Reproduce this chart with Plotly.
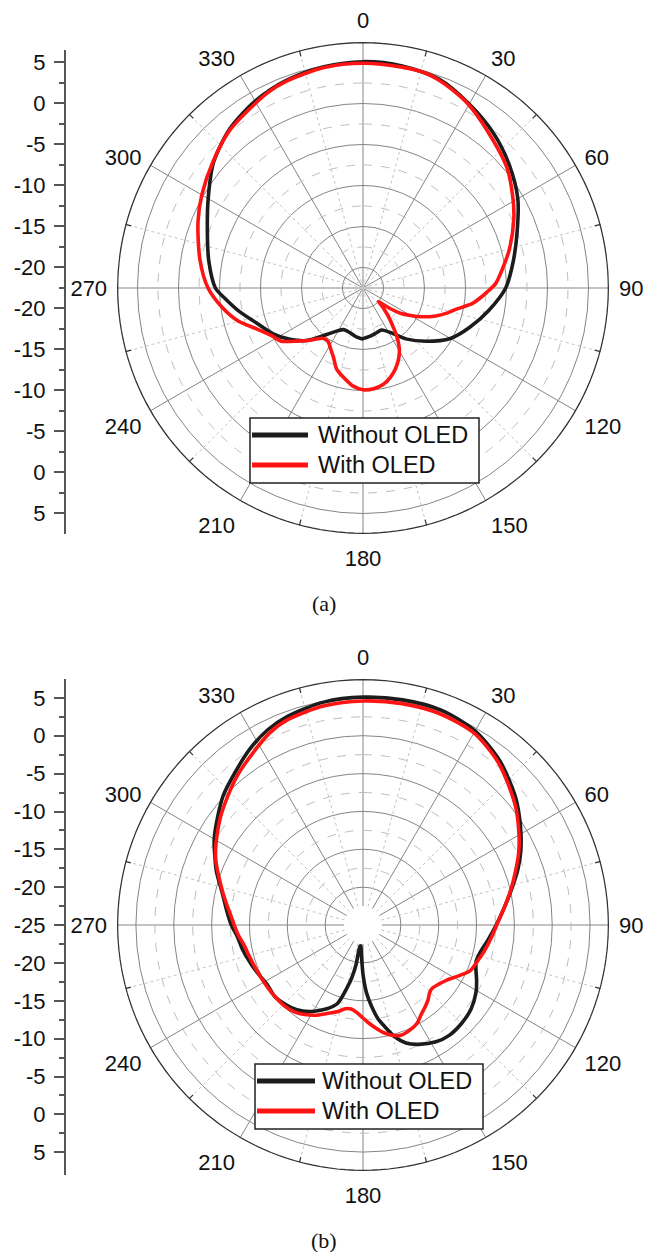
import plotly.graph_objects as go

# ---------------- data ----------------
# (a) Without OLED
a_black_theta = [0, 10, 20, 30, 40, 50, 60, 70, 80, 90, 100, 110, 120, 130, 140, 147, 156, 163, 170,
                 176, 181, 187, 194, 200, 205, 211, 218, 227, 235, 243, 252, 259, 265, 270, 280, 290,
                 300, 310, 320, 330, 340, 350, 360]
a_black_r = [5.1, 5.0, 4.6, 3.4, 2.2, 0.8, -0.7, -2.5, -3.9, -5.1, -6.9, -8.6, -10.2, -12.4, -14.4,
             -15.9, -16.9, -16.8, -16.6, -16.45, -16.3, -16.45, -16.75, -16.9, -16.9, -16.4, -15.3,
             -13.1, -11.6, -10.2, -8.8, -7.2, -5.8, -4.5, -3.4, -2.3, -0.7, 1.3, 2.8, 3.8, 4.5, 4.9, 5.1]

# (a) With OLED
a_red_theta = [0, 10, 16, 20, 27, 30, 38, 50, 58, 65, 75, 82, 88, 92, 95, 98, 103, 107, 111, 116, 120,
               124, 127, 130, 131.5, 133, 136, 139, 142, 145, 149, 153, 158, 163, 168, 174, 180, 186,
               192, 198, 203, 208, 213, 218, 225, 231, 237, 242, 249, 255, 262, 270, 280, 292, 300,
               310, 320, 334, 340, 350, 360]
a_red_r = [4.9, 4.85, 4.8, 4.5, 3.7, 3.3, 2.0, 0.4, -1.0, -2.2, -4.0, -5.3, -6.3, -7.4, -8.2, -9.0,
           -10.9, -11.9, -13.0, -14.5, -15.8, -17.0, -18.3, -19.7, -20.0, -19.5, -18.6, -17.6, -16.6,
           -15.3, -13.9, -12.9, -11.9, -11.1, -10.5, -10.15, -10.1, -10.5, -11.3, -12.1, -13.3, -14.1,
           -14.7, -14.7, -13.5, -12.2, -10.6, -10.0, -8.6, -6.8, -5.2, -3.6, -2.3, -0.8, 0.2, 1.4,
           2.7, 4.0, 4.4, 4.8, 4.9]

# (b) Without OLED
b_black_theta = [0, 10, 20, 30, 40, 50, 55, 60, 65, 70, 76, 83, 90, 97, 103, 108, 112, 116, 121, 128,
                 135, 142, 148, 155, 160, 164, 168, 171, 174, 177, 180, 183, 186, 188, 190, 192, 194,
                 198, 202, 206, 212, 218, 225, 231, 238, 244, 250, 258, 265, 270, 276, 283, 290, 295,
                 300, 307, 313, 320, 327, 334, 340, 350, 360]
b_black_r = [5.1, 5.2, 5.2, 4.6, 3.2, 1.3, 0.2, -0.9, -2.0, -3.2, -4.7, -6.2, -7.4, -8.4, -9.1, -9.3,
             -8.9, -8.3, -7.6, -6.9, -6.6, -6.5, -6.8, -7.6, -8.4, -9.6, -11.3, -12.5, -14.2, -16.0,
             -18.5, -21.0, -22.2, -22.2, -19.6, -17.9, -16.6, -14.1, -13.2, -12.5, -11.5, -10.8,
             -10.3, -10.0, -10.1, -9.8, -9.4, -8.8, -8.3, -7.6, -6.9, -5.9, -4.4, -3.4, -2.3, -1.0,
             0.2, 1.3, 2.6, 3.7, 4.3, 4.9, 5.1]

# (b) With OLED
b_red_theta = [0, 10, 20, 30, 40, 52, 60, 65, 70, 76, 82, 89, 95, 102, 107, 113, 118, 123, 128, 132,
               135, 139, 143, 147, 151, 156, 161, 165, 169, 173, 177, 181, 184, 188, 192, 196, 202,
               208, 213, 218, 224, 232, 240, 248, 255, 260, 266, 274, 283, 295, 307, 320, 334, 340,
               350, 360]
b_red_r = [4.6, 4.7, 4.7, 4.3, 2.9, 0.55, -1.2, -2.3, -3.5, -4.8, -6.0, -7.2, -7.9, -8.6, -9.1, -9.6,
           -10.7, -11.7, -12.3, -12.6, -12.5, -11.9, -11.4, -10.9, -10.2, -9.8, -9.6, -9.9, -10.5,
           -11.3, -12.1, -12.9, -13.4, -13.8, -13.7, -13.1, -12.4, -11.5, -10.9, -10.4, -10.1, -10.0,
           -9.9, -9.7, -9.4, -9.1, -8.4, -7.5, -6.0, -3.5, -1.4, 0.8, 3.2, 3.9, 4.4, 4.6]

series_names = ["Without OLED", "With OLED"]
angle_ticks = list(range(0, 360, 30))
angle_labels = [str(a) for a in angle_ticks]
major_circles = [-20, -15, -10, -5, 0, 5]
minor_circles = [-17.5, -12.5, -7.5, -2.5, 2.5]
minor_spokes = list(range(15, 360, 30))
left_axis_values = [5, 0, -5, -10, -15, -20]
captions = ["(a)", "(b)"]

# ---------------- style ----------------
W, H = 648, 1252
R_MIN, R_MAX = -22.5, 7.5
BLACK = "#1c1c1c"
RED = "#ff1414"
GRID = "#858585"
FONT = "Liberation Sans, Arial, sans-serif"


def px(x):
    return x / W


def py(y):
    return 1 - y / H


fig = go.Figure()

circle_theta = [i * 2 for i in range(181)]

for pol in ["polar", "polar2"]:
    # dashed minor circles
    for v in minor_circles:
        fig.add_trace(go.Scatterpolar(r=[v] * len(circle_theta), theta=circle_theta, mode="lines",
                                      line=dict(color="#bdbdbd", width=1, dash="dash"),
                                      hoverinfo="skip", showlegend=False, subplot=pol))
    # dotted minor spokes and small outer ticks
    for a in minor_spokes:
        fig.add_trace(go.Scatterpolar(r=[R_MIN, R_MAX], theta=[a, a], mode="lines",
                                      line=dict(color="#c4c4c4", width=1, dash="dot"),
                                      hoverinfo="skip", showlegend=False, subplot=pol))
        fig.add_trace(go.Scatterpolar(r=[R_MAX - 0.75, R_MAX], theta=[a, a], mode="lines",
                                      line=dict(color="#333333", width=1.2),
                                      hoverinfo="skip", showlegend=False, subplot=pol))
    # outer frame circle (drawn as a line so no ring appears at the centre hole)
    fig.add_trace(go.Scatterpolar(r=[R_MAX - 0.05] * len(circle_theta), theta=circle_theta,
                                  mode="lines", line=dict(color="#333333", width=1.8),
                                  hoverinfo="skip", showlegend=False, subplot=pol))

curves = [
    ("polar", a_black_theta, a_black_r, BLACK, series_names[0]),
    ("polar", a_red_theta, a_red_r, RED, series_names[1]),
    ("polar2", b_black_theta, b_black_r, BLACK, series_names[0]),
    ("polar2", b_red_theta, b_red_r, RED, series_names[1]),
]
for pol, th, r, col, name in curves:
    fig.add_trace(go.Scatterpolar(r=r, theta=th, mode="lines", name=name,
                                  line=dict(color=col, width=3.6, shape="spline", smoothing=0.8),
                                  showlegend=False, subplot=pol))

# invisible traces to carry the left-hand linear scales
fig.add_trace(go.Scatter(x=[None], y=[None], xaxis="x", yaxis="y", showlegend=False, hoverinfo="skip"))
fig.add_trace(go.Scatter(x=[None], y=[None], xaxis="x2", yaxis="y2", showlegend=False, hoverinfo="skip"))


def polar_layout(y_top, y_bot, hole):
    return dict(
        domain=dict(x=[px(117), px(609)], y=[py(y_bot), py(y_top)]),
        bgcolor="white",
        hole=hole,
        radialaxis=dict(range=[R_MIN, R_MAX], tickmode="array", tickvals=major_circles,
                        showticklabels=False, ticks="", showline=False,
                        gridcolor=GRID, gridwidth=1, layer="below traces"),
        angularaxis=dict(rotation=90, direction="clockwise", tickmode="array",
                         tickvals=angle_ticks, ticktext=angle_labels,
                         ticks="outside", ticklen=5, tickcolor="rgba(0,0,0,0)",
                         tickfont=dict(family=FONT, size=22, color="#111"),
                         showline=False,
                         gridcolor=GRID, gridwidth=1, layer="below traces"),
    )


# left scale for (a): center is R_MIN, no hole
a_tv, a_tt = [], []
for v in left_axis_values:
    a_tv += [v - R_MIN, -(v - R_MIN)]
    a_tt += [str(v), str(v)]
a_minor = [x * 5.0 for x in range(-5, 6)]

# left scale for (b): hole of 2.5 units, center labelled -25
b_tv, b_tt = [0.0], ["-25"]
for v in left_axis_values:
    b_tv += [v + 25, -(v + 25)]
    b_tt += [str(v), str(v)]
b_minor = [s * (2.5 + 5 * k) for k in range(6) for s in (1, -1)]


def left_axis(y_top, y_bot, rng, tv, tt, minor_tv):
    return dict(domain=[py(y_bot), py(y_top)], anchor="free", position=px(65), side="left",
                range=rng, tickmode="array", tickvals=tv, ticktext=tt, ticks="outside",
                ticklen=10, tickwidth=1.5, tickcolor="#555", showline=True, linecolor="#555",
                linewidth=2, showgrid=False, zeroline=False, ticklabelstandoff=4,
                tickfont=dict(family=FONT, size=22, color="#111"),
                minor=dict(tickmode="array", tickvals=minor_tv, ticks="outside", ticklen=5,
                           tickwidth=1.5, tickcolor="#555", showgrid=False))


fig.update_layout(
    width=W, height=H, margin=dict(l=0, r=0, t=0, b=0),
    paper_bgcolor="white", plot_bgcolor="white", showlegend=False,
    font=dict(family=FONT, color="#111"),
    polar=polar_layout(42, 534, 0),
    polar2=polar_layout(679, 1171, 2.5 / 32.5),
    xaxis=dict(domain=[0, 0.05], visible=False, range=[0, 1]),
    yaxis=left_axis(50, 534, [-30, 29], a_tv, a_tt, a_minor),
    xaxis2=dict(domain=[0, 0.05], visible=False, range=[0, 1], anchor="y2"),
    yaxis2=left_axis(679, 1175, [-33.0, 32.5], b_tv, b_tt, b_minor),
)

# manual legends and captions
shapes, annos = [], []
legends = [
    dict(box=(250, 418, 479, 483), lines=(435, 465), x0=252, x1=308, tx=316),
    dict(box=(255, 1064, 483, 1129), lines=(1081, 1111), x0=257, x1=315, tx=320),
]
for lg in legends:
    bx0, by0, bx1, by1 = lg["box"]
    shapes.append(dict(type="rect", xref="paper", yref="paper", x0=px(bx0), x1=px(bx1),
                       y0=py(by1), y1=py(by0), line=dict(color="#222", width=1.5),
                       fillcolor="white", layer="above"))
    for yy, col, name in zip(lg["lines"], [BLACK, RED], series_names):
        shapes.append(dict(type="line", xref="paper", yref="paper", x0=px(lg["x0"]), x1=px(lg["x1"]),
                           y0=py(yy), y1=py(yy), line=dict(color=col, width=5), layer="above"))
        annos.append(dict(text=name, x=px(lg["tx"]), y=py(yy), xref="paper", yref="paper",
                          xanchor="left", yanchor="middle", showarrow=False,
                          font=dict(family=FONT, size=23.5, color="#111")))

for cap, yy in zip(captions, [603, 1240]):
    annos.append(dict(text=cap, x=0.5, y=py(yy), xref="paper", yref="paper", xanchor="center",
                      yanchor="middle", showarrow=False,
                      font=dict(family="Liberation Serif, Times New Roman, serif", size=22, color="#111")))

fig.update_layout(shapes=shapes, annotations=annos)
fig.write_html("out.html")
